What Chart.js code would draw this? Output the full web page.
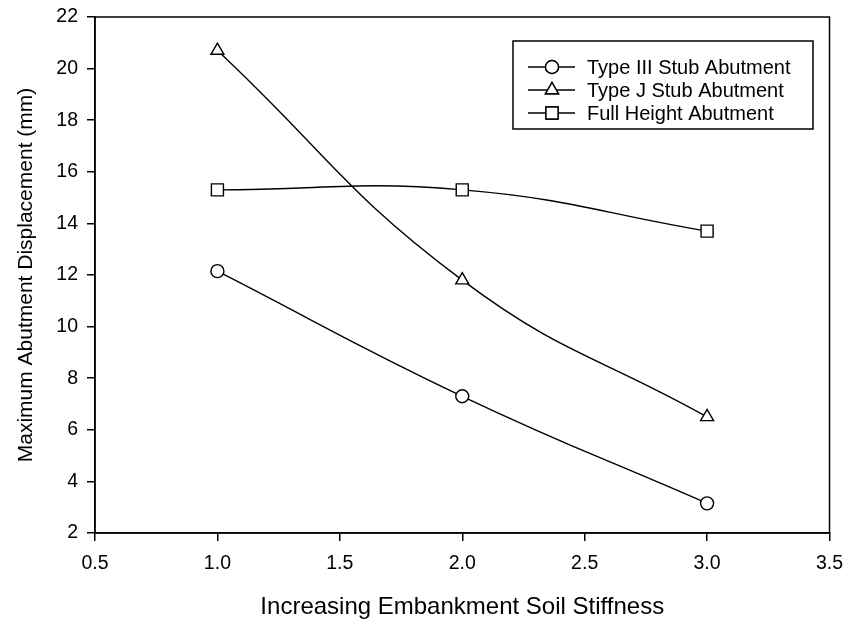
<!DOCTYPE html>
<html>
<head>
<meta charset="utf-8">
<script src="https://cdn.jsdelivr.net/npm/chart.js@4.4.1/dist/chart.umd.min.js"></script>
<style>
  html, body { margin: 0; padding: 0; background: #fff; }
  #wrap { width: 847px; height: 619px; position: relative; }
</style>
</head>
<body>
<div id="wrap"><canvas id="c" width="847" height="619"></canvas></div>
<script>
const stiffness = [1, 2, 3];
const typeIII = [12.15, 7.3, 3.15];
const typeJ = [20.7, 11.8, 6.5];
const fullHeight = [15.3, 15.3, 13.7];
const seriesLabels = ['Type III Stub Abutment', 'Type J Stub Abutment', 'Full Height Abutment'];
const seriesMarkers = ['circle', 'triangle', 'rect'];
const xTitle = 'Increasing Embankment Soil Stiffness';
const yTitle = 'Maximum Abutment Displacement (mm)';

const FONT = '"Liberation Sans", Arial, sans-serif';

function toPts(ys) { return stiffness.map((x, i) => ({ x: x, y: ys[i] })); }

const radii = { circle: 6.5, triangle: 7.5, rect: 8.5 };

function mkDataset(label, ys, marker) {
  return {
    label: label,
    data: toPts(ys),
    borderColor: '#000',
    borderWidth: 1.4,
    pointStyle: marker,
    pointRadius: radii[marker],
    pointBackgroundColor: '#fff',
    pointBorderColor: '#000',
    pointBorderWidth: 1.4,
    tension: 0.45,
    fill: false
  };
}

const framePlugin = {
  id: 'frame',
  afterDraw(chart) {
    const { ctx, chartArea: a } = chart;
    ctx.save();
    ctx.strokeStyle = '#000';
    ctx.lineWidth = 1.5;
    ctx.strokeRect(a.left, a.top, a.right - a.left, a.bottom - a.top);
    ctx.restore();
  }
};

const legendPlugin = {
  id: 'boxLegend',
  afterDraw(chart) {
    const { ctx } = chart;
    const bx = 513, by = 41, bw = 300, bh = 88;
    ctx.save();
    ctx.fillStyle = '#fff';
    ctx.fillRect(bx, by, bw, bh);
    ctx.strokeStyle = '#000';
    ctx.lineWidth = 1.5;
    ctx.strokeRect(bx, by, bw, bh);
    ctx.font = '20px ' + FONT;
    ctx.textBaseline = 'middle';
    ctx.fillStyle = '#000';
    chart.data.datasets.forEach((ds, i) => {
      const y = 67 + i * 23;
      ctx.beginPath();
      ctx.lineWidth = 1.4;
      ctx.moveTo(528, y);
      ctx.lineTo(575, y);
      ctx.stroke();
      Chart.helpers.drawPoint(ctx, {
        pointStyle: ds.pointStyle,
        radius: ds.pointRadius,
        borderWidth: 1.4,
        rotation: 0
      }, 552, y);
      ctx.fillStyle = '#fff';
      ctx.fill();
      ctx.stroke();
      ctx.fillStyle = '#000';
      ctx.fillText(ds.label, 587, y + 1);
    });
    ctx.restore();
  }
};

function zeroPad(s) {
  s.paddingTop = 0; s.paddingBottom = 0; s.paddingLeft = 0; s.paddingRight = 0;
}

new Chart(document.getElementById('c'), {
  type: 'line',
  data: {
    datasets: [
      mkDataset(seriesLabels[0], typeIII, seriesMarkers[0]),
      mkDataset(seriesLabels[1], typeJ, seriesMarkers[1]),
      mkDataset(seriesLabels[2], fullHeight, seriesMarkers[2])
    ]
  },
  options: {
    responsive: false,
    animation: false,
    events: [],
    layout: { padding: { left: 0, right: 17.5, top: 17, bottom: 0 } },
    plugins: { legend: { display: false }, tooltip: { enabled: false } },
    scales: {
      x: {
        type: 'linear',
        min: 0.5, max: 3.5,
        afterFit(s) { s.height = 86; zeroPad(s); },
        border: { display: true, color: '#000', width: 1.5 },
        grid: { drawOnChartArea: false, drawTicks: true, tickLength: 8, color: '#000', lineWidth: 1.5 },
        ticks: {
          stepSize: 0.5,
          color: '#000',
          padding: 11,
          font: { family: FONT, size: 19.5 },
          callback: v => Number(v).toFixed(1)
        },
        title: {
          display: true, text: xTitle, color: '#000',
          font: { family: FONT, size: 24, lineHeight: 1.0 },
          padding: { top: 0, bottom: 0 }
        }
      },
      y: {
        type: 'linear',
        min: 2, max: 22,
        afterFit(s) { s.width = 95; zeroPad(s); },
        border: { display: true, color: '#000', width: 1.5 },
        grid: { drawOnChartArea: false, drawTicks: true, tickLength: 8, color: '#000', lineWidth: 1.5 },
        ticks: {
          stepSize: 2,
          color: '#000',
          padding: 9,
          font: { family: FONT, size: 19.5 }
        },
        title: {
          display: true, text: yTitle, color: '#000',
          font: { family: FONT, size: 21, lineHeight: 1.0 },
          padding: { top: 15.5, bottom: 0 }
        }
      }
    }
  },
  plugins: [framePlugin, legendPlugin]
});
</script>
</body>
</html>
